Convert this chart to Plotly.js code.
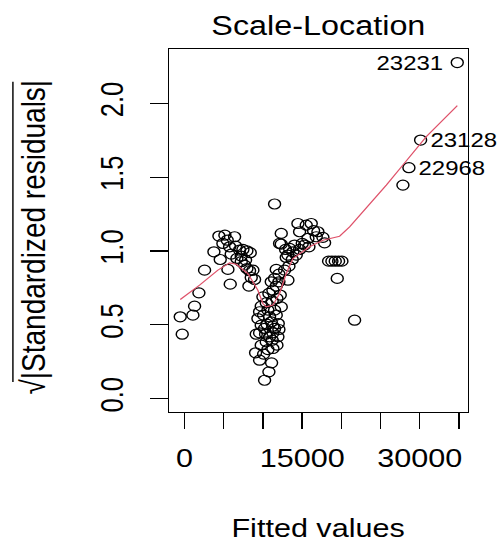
<!DOCTYPE html>
<html><head><meta charset="utf-8">
<script src="https://cdn.plot.ly/plotly-3.0.1.min.js"></script>
<style>
html,body{margin:0;padding:0;background:#fff;overflow:hidden;}
#chart{width:417px;height:545px;transform:scaleX(1.19904);transform-origin:0 0;}
</style></head><body><div id="chart"></div>
<script>
// Fitted values (x) and sqrt(|standardized residuals|) (y)
const fittedX = [
 -553,-298,1063,1276,1829,2552,3743,4381,4551,5146,4891,5444,6380,5742,6507,5954,7017,7443,7953,8378,
 6677,7230,7655,7953,8293,8719,8506,8931,8208,5827,5529,7230,7783,
 11483,10207,10760,11100,9569,9059,10080,10633,11270,11781,9782,10420,11185,11908,9144,9569,10335,11270,
 12036,9782,10505,11270,11951,9357,10080,10845,11696,12334,9782,10420,11185,11781,12206,9995,10760,11270,
 11696,12036,11483,12036,11696,11058,13184,10633,11483,9569,11058,10207,10845,11483,
 12334,12334,12886,13397,12972,13737,14248,14673,14035,15013,14460,14673,15523,16161,16459,17012,17650,
 17863,15736,15311,15864,16799,13822,13312,12759,12121,13184,
 18373,18798,19224,19649,20074,19479,21690,
 27857,28622,30111,34790
];
const sqrtStdRes = [
 0.554,0.436,0.565,0.626,0.716,0.870,0.994,1.101,0.942,1.107,1.051,1.073,1.096,1.028,1.033,0.979,1.006,1.010,1.001,0.988,
 0.949,0.927,0.904,0.881,0.866,0.870,0.820,0.807,0.762,0.775,0.875,0.965,0.938,
 1.318,0.124,0.181,0.242,0.260,0.310,0.301,0.332,0.339,0.362,0.362,0.384,0.395,0.418,0.436,0.445,0.436,0.445,
 0.468,0.497,0.504,0.490,0.508,0.542,0.565,0.554,0.565,0.621,0.626,0.649,0.662,0.678,0.701,0.689,0.712,0.734,
 0.762,0.791,0.814,0.843,0.875,0.791,0.802,0.599,0.599,0.588,0.520,0.475,0.418,0.475,
 1.119,1.046,1.010,1.017,0.956,0.942,0.972,1.010,1.040,1.051,1.186,1.130,1.175,1.186,1.137,1.130,1.092,
 1.055,1.085,1.040,1.028,1.096,0.994,0.897,0.870,1.051,0.972,
 0.931,0.931,0.931,0.931,0.931,0.814,0.531,
 1.446,1.564,1.751,2.276
];
// Smoother (red line)
const smoothX = [-549,1914,4254,5742,6597,8077,9353,9991,10421,11271,12122,12973,13823,14674,15950,17648,19778,21054,23185,25737,27856,30839,34795];
const smoothY = [0.671,0.768,0.870,0.919,0.910,0.847,0.734,0.644,0.621,0.633,0.712,0.847,0.949,0.983,1.028,1.073,1.100,1.163,1.288,1.446,1.582,1.774,1.984];
// Ticks
const xTickVals = [0,5000,10000,15000,20000,25000,30000,35000];
const xTickText = ['0','','','15000','','','30000',''];
const yTickVals = [0,0.5,1,1.5,2];
const yTickText = ['0.0','0.5','1.0','1.5','2.0'];
// Labelled observations
const idLabels = ['23231','23128','22968'];
const idIndex = [120,119,118];
const idSide = ['left','right','right'];

const FONT = '"Liberation Sans", Arial, sans-serif';
const annotations = idLabels.map((t,i)=>({
  x: fittedX[idIndex[i]], y: sqrtStdRes[idIndex[i]], xref:'x', yref:'y',
  text: t, showarrow:false,
  xanchor: idSide[i]==='left' ? 'right' : 'left',
  xshift: idSide[i]==='left' ? -9 : 6,
  font:{family:FONT,size:20,color:'#000'}
}));
annotations.push({
  text:'Fitted values', xref:'paper', yref:'paper', x:0.5, y:-0.32,
  xanchor:'center', yanchor:'middle', showarrow:false,
  font:{family:FONT,size:25.5,color:'#000'}
});
annotations.push({
  text:'√|Standardized residuals|', xref:'paper', yref:'paper', x:-0.456, y:0.4817,
  xanchor:'center', yanchor:'middle', showarrow:false, textangle:-90,
  font:{family:FONT,size:28,color:'#000'}
});

const data = [
  {x: fittedX, y: sqrtStdRes, type:'scatter', mode:'markers',
   marker:{symbol:'circle-open', size:10, color:'#000', line:{width:1.2,color:'#000'}},
   cliponaxis:false, hoverinfo:'skip'},
  {x: smoothX, y: smoothY, type:'scatter', mode:'lines',
   line:{color:'#DF536B', width:1.1}, hoverinfo:'skip'}
];

const layout = {
  width:417, height:545,
  margin:{l:141, r:27, t:49, b:133},
  paper_bgcolor:'#fff', plot_bgcolor:'#fff',
  showlegend:false,
  font:{family:FONT, color:'#000'},
  title:{text:'Scale-Location', font:{family:FONT,size:27,color:'#000'},
         x:0.5, xref:'paper', xanchor:'center', y:0.954, yref:'container', yanchor:'middle'},
  xaxis:{range:[-1978,36111], tickvals:xTickVals, ticktext:xTickText,
         ticks:'outside', ticklen:16, tickwidth:1.2, tickcolor:'#000',
         showline:true, mirror:true, linecolor:'#000', linewidth:1.3,
         showgrid:false, zeroline:false, ticklabelstandoff:7,
         tickfont:{family:FONT,size:25.5,color:'#000'}},
  yaxis:{range:[-0.091,2.368], tickvals:yTickVals, ticktext:yTickText, tickangle:-90,
         ticks:'outside', ticklen:15, tickwidth:1.2, tickcolor:'#000',
         showline:true, mirror:true, linecolor:'#000', linewidth:1.3,
         showgrid:false, zeroline:false, ticklabelstandoff:12,
         tickfont:{family:FONT,size:25.5,color:'#000'}},
  annotations: annotations,
  shapes:[{type:'line', xref:'paper', yref:'paper', x0:-0.523, x1:-0.523, y0:0.0827, y1:0.9099,
           line:{color:'#000', width:1.2}}]
};

Plotly.newPlot('chart', data, layout, {staticPlot:true, displayModeBar:false});
</script></body></html>
